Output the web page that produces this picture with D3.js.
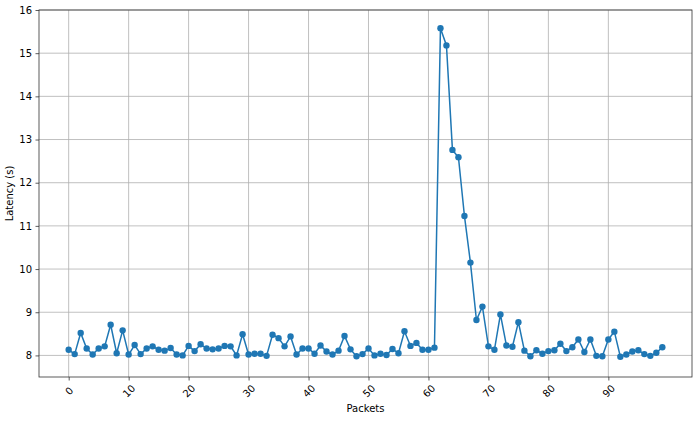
<!DOCTYPE html>
<html>
<head>
<meta charset="utf-8">
<script src="https://cdn.jsdelivr.net/npm/d3@7"></script>
<style>
  body { margin: 0; background: #fff; }
  text { font-family: "DejaVu Sans", sans-serif; fill: #000; }
</style>
</head>
<body>
<div id="chart"></div>
<script>
// packet index -> latency (s)
const latency = [
  8.13, 8.03, 8.52, 8.16, 8.02, 8.16, 8.21, 8.71, 8.05, 8.58,
  8.02, 8.24, 8.03, 8.16, 8.21, 8.13, 8.11, 8.17, 8.02, 8.00,
  8.22, 8.10, 8.26, 8.16, 8.14, 8.16, 8.22, 8.21, 8.00, 8.49,
  8.02, 8.04, 8.04, 7.99, 8.48, 8.40, 8.21, 8.44, 8.02, 8.16,
  8.16, 8.04, 8.23, 8.09, 8.02, 8.11, 8.45, 8.14, 7.98, 8.03,
  8.16, 8.00, 8.04, 8.01, 8.15, 8.05, 8.56, 8.22, 8.29, 8.13,
  8.13, 8.18, 15.58, 15.18, 12.76, 12.59, 11.23, 10.15, 8.82, 9.13,
  8.21, 8.13, 8.95, 8.23, 8.20, 8.77, 8.11, 7.98, 8.12, 8.04,
  8.10, 8.12, 8.27, 8.10, 8.19, 8.37, 8.08, 8.37, 7.99, 7.98,
  8.37, 8.55, 7.97, 8.02, 8.09, 8.12, 8.03, 7.99, 8.06, 8.19
]
const xTicks = [0, 10, 20, 30, 40, 50, 60, 70, 80, 90]
const yTicks = [8, 9, 10, 11, 12, 13, 14, 15, 16]

const width = 700, height = 421
const margin = {left: 39, right: 8, top: 10, bottom: 44}

const data = latency.map((v, i) => ({x: i, y: v}))

const svg = d3.select("#chart").append("svg")
  .attr("width", width)
  .attr("height", height)

const pad = (latency.length - 1) * 0.05
const x = d3.scaleLinear()
  .domain([-pad, latency.length - 1 + pad])
  .range([margin.left, width - margin.right])

const y = d3.scaleLinear()
  .domain([7.5, 16])
  .range([height - margin.bottom, margin.top])

// grid
svg.append("g")
  .attr("stroke", "#b0b0b0")
  .attr("stroke-width", 0.8)
  .selectAll("line.v")
  .data(xTicks)
  .join("line")
  .attr("x1", d => x(d)).attr("x2", d => x(d))
  .attr("y1", y.range()[0]).attr("y2", y.range()[1])

svg.append("g")
  .attr("stroke", "#b0b0b0")
  .attr("stroke-width", 0.8)
  .selectAll("line.h")
  .data(yTicks)
  .join("line")
  .attr("x1", x.range()[0]).attr("x2", x.range()[1])
  .attr("y1", d => y(d)).attr("y2", d => y(d))

// axes
const xAxis = svg.append("g")
  .attr("transform", `translate(0,${height - margin.bottom})`)
  .call(d3.axisBottom(x).tickValues(xTicks).tickSize(3.5).tickPadding(3).tickFormat(d3.format("d")))
xAxis.select(".domain").remove()
xAxis.selectAll("line").attr("stroke", "#333").attr("stroke-width", 0.8)
xAxis.selectAll("text")
  .attr("font-size", 10)
  .attr("text-anchor", "middle")
  .attr("dy", null)
  .attr("y", 0)
  .attr("transform", "translate(0,14) rotate(-45)")
  .attr("dominant-baseline", "central")

const yAxis = svg.append("g")
  .attr("transform", `translate(${margin.left},0)`)
  .call(d3.axisLeft(y).tickValues(yTicks).tickSize(3.5).tickPadding(3.5).tickFormat(d3.format("d")))
yAxis.select(".domain").remove()
yAxis.selectAll("line").attr("stroke", "#333").attr("stroke-width", 0.8)
yAxis.selectAll("text").attr("font-size", 10)

// frame
svg.append("rect")
  .attr("x", x.range()[0])
  .attr("y", y.range()[1])
  .attr("width", x.range()[1] - x.range()[0])
  .attr("height", y.range()[0] - y.range()[1])
  .attr("fill", "none")
  .attr("stroke", "#333")
  .attr("stroke-width", 0.8)

// line + markers
svg.append("path")
  .datum(data)
  .attr("fill", "none")
  .attr("stroke", "#1f77b4")
  .attr("stroke-width", 1.5)
  .attr("d", d3.line().x(d => x(d.x)).y(d => y(d.y)))

svg.append("g")
  .attr("fill", "#1f77b4")
  .selectAll("circle")
  .data(data)
  .join("circle")
  .attr("cx", d => x(d.x))
  .attr("cy", d => y(d.y))
  .attr("r", 3.2)

// labels
svg.append("text")
  .attr("x", (x.range()[0] + x.range()[1]) / 2)
  .attr("y", 412)
  .attr("text-anchor", "middle")
  .attr("font-size", 10)
  .text("Packets")

svg.append("text")
  .attr("transform", `translate(13,${(y.range()[0] + y.range()[1]) / 2}) rotate(-90)`)
  .attr("text-anchor", "middle")
  .attr("font-size", 10)
  .text("Latency (s)")
</script>
</body>
</html>
